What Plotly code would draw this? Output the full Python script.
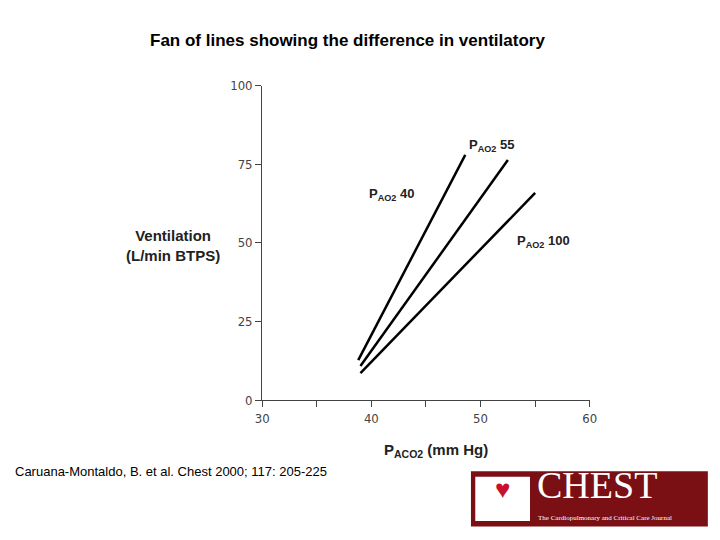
import plotly.graph_objects as go

series_names = ["P<sub>AO2</sub> 40", "P<sub>AO2</sub> 55", "P<sub>AO2</sub> 100"]
paco2_start = [38.8, 39.0, 39.0]
paco2_end = [48.6, 52.5, 55.0]
vent_start = [12.7, 10.8, 8.6]
vent_end = [78.0, 76.4, 65.9]
label_x = [41.8, 51.0, 55.8]
label_y = [65.5, 81.0, 50.5]

x_ticks = [30, 40, 50, 60]
y_ticks = [0, 25, 50, 75, 100]

fig = go.Figure()
for i in range(len(series_names)):
    fig.add_trace(go.Scatter(x=[paco2_start[i], paco2_end[i]], y=[vent_start[i], vent_end[i]],
                             mode="lines", line=dict(color="black", width=2.5), showlegend=False))
    fig.add_annotation(x=label_x[i], y=label_y[i], text="<b>" + series_names[i] + "</b>",
                       showarrow=False, font=dict(family="Liberation Sans", size=13, color="#222"))

fig.update_xaxes(range=[30, 60], tickvals=x_ticks, ticks="outside", ticklen=6, showgrid=False,
                 showline=True, linecolor="#444", zeroline=False, domain=[0.353, 0.808],
                 tickfont=dict(family="DejaVu Sans Condensed", size=13, color="#444"),
                 minor=dict(tickvals=[35, 45, 55], ticks="outside", ticklen=6, tickcolor="#444"))
fig.update_yaxes(range=[0, 100], tickvals=y_ticks, ticks="outside", ticklen=6, showgrid=False,
                 showline=True, linecolor="#444", zeroline=False, domain=[0.274, 0.856],
                 tickfont=dict(family="DejaVu Sans Condensed", size=13, color="#444"))

fig.add_annotation(xref="paper", yref="paper", x=0.229, y=0.56, xanchor="center", showarrow=False,
                   text="<b>Ventilation<br>(L/min BTPS)</b>",
                   font=dict(family="Liberation Sans", size=15, color="#222"))
fig.add_annotation(xref="paper", yref="paper", x=0.594, y=0.16, xanchor="center", showarrow=False,
                   text="<b>P<sub>ACO2</sub> (mm Hg)</b>",
                   font=dict(family="Liberation Sans", size=15, color="#222"))
fig.add_annotation(xref="paper", yref="paper", x=0.472, y=0.962, xanchor="center", showarrow=False,
                   text="<b>Fan of lines showing the difference in ventilatory</b>",
                   font=dict(family="Liberation Sans", size=17, color="black"))
fig.add_annotation(xref="paper", yref="paper", x=0.007, y=0.125, xanchor="left", showarrow=False,
                   text="Caruana-Montaldo, B. et al. Chest 2000; 117: 205-225",
                   font=dict(family="Liberation Sans", size=13, color="black"))

# logo
fig.add_shape(type="rect", xref="paper", yref="paper", x0=0.643, x1=0.972, y0=0.04, y1=0.142,
              fillcolor="#7a0f14", line=dict(width=0))
fig.add_shape(type="rect", xref="paper", yref="paper", x0=0.649, x1=0.725, y0=0.05, y1=0.132,
              fillcolor="white", line=dict(width=0))
fig.add_annotation(xref="paper", yref="paper", x=0.687, y=0.075, xanchor="center", showarrow=False,
                   text="♥", font=dict(size=26, color="#c8102e"))
fig.add_annotation(xref="paper", yref="paper", x=0.732, y=0.075, xanchor="left", showarrow=False,
                   text="CHEST", font=dict(family="Liberation Serif", size=38, color="white"))
fig.add_annotation(xref="paper", yref="paper", x=0.734, y=0.045, xanchor="left", showarrow=False,
                   text="The Cardiopulmonary and Critical Care Journal",
                   font=dict(family="Liberation Serif", size=7, color="white"))

fig.update_layout(width=720, height=540, margin=dict(l=0, r=0, t=0, b=0, autoexpand=False),
                  plot_bgcolor="white", paper_bgcolor="white")
fig.write_html("out.html")
